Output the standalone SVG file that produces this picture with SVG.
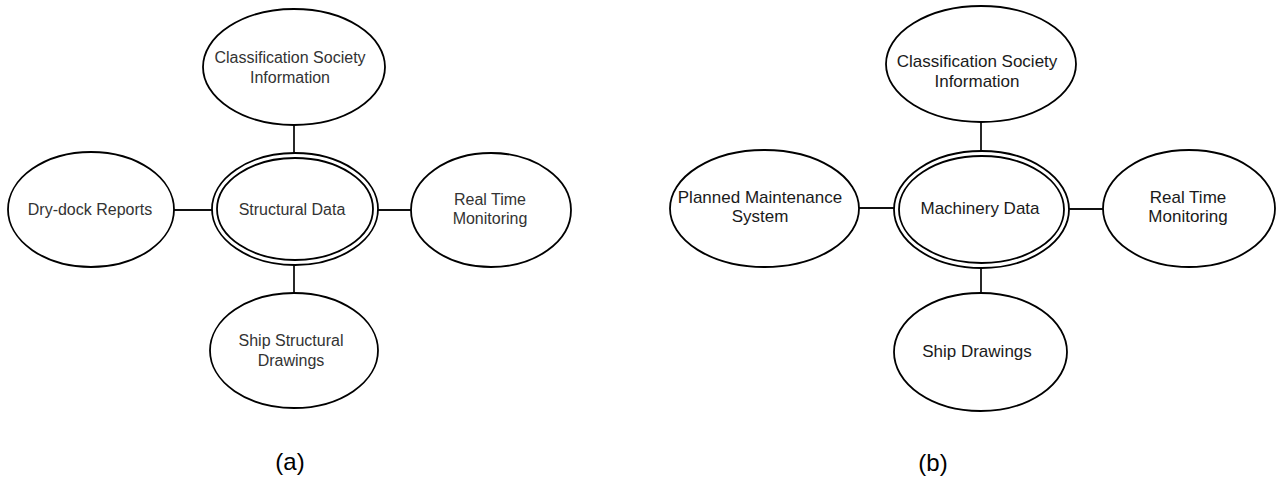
<svg xmlns="http://www.w3.org/2000/svg" width="1281" height="479" viewBox="0 0 1281 479">
<style>
.n{fill:#fff;stroke:#000;stroke-width:1.8}
.c{stroke:#111;stroke-width:1.8;fill:none}
.ta{font-family:"Liberation Sans",Arial,sans-serif;font-size:16px;fill:#333;text-anchor:middle}
.tb{font-family:"Liberation Sans",Arial,sans-serif;font-size:17px;fill:#1a1a1a;text-anchor:middle}
.cap{font-family:"Liberation Sans",Arial,sans-serif;font-size:24px;fill:#000;text-anchor:middle}
</style>
<rect width="1281" height="479" fill="#fff"/>
<g id="connectors">
<line class="c" x1="294" y1="125" x2="294" y2="153"/>
<line class="c" x1="174" y1="210" x2="212" y2="210"/>
<line class="c" x1="378" y1="210" x2="411" y2="210"/>
<line class="c" x1="294" y1="265" x2="294" y2="293"/>
<line class="c" x1="981" y1="122" x2="981" y2="151"/>
<line class="c" x1="859" y1="208" x2="894" y2="208"/>
<line class="c" x1="1069" y1="209" x2="1103" y2="209"/>
<line class="c" x1="981" y1="268" x2="981" y2="293"/>
</g>
<g id="a-class">
<ellipse class="n" cx="294" cy="67" rx="91" ry="58"/>
<text class="ta" x="290" y="63">Classification Society</text>
<text class="ta" x="290" y="83">Information</text>
</g>
<g id="a-struct">
<ellipse class="n" cx="295" cy="209" rx="83" ry="56"/>
<ellipse class="n" cx="295" cy="209" rx="78" ry="51"/>
<text class="ta" x="292" y="215">Structural Data</text>
</g>
<g id="a-drydock">
<ellipse class="n" cx="91" cy="209.5" rx="83" ry="57.5"/>
<text class="ta" x="90" y="215">Dry-dock Reports</text>
</g>
<g id="a-rtm">
<ellipse class="n" cx="491" cy="210" rx="80" ry="57"/>
<text class="ta" x="490" y="205">Real Time</text>
<text class="ta" x="490" y="224">Monitoring</text>
</g>
<g id="a-ship">
<ellipse class="n" cx="294" cy="350.5" rx="84" ry="57.5"/>
<text class="ta" x="291" y="346">Ship Structural</text>
<text class="ta" x="291" y="366">Drawings</text>
</g>
<text class="cap" x="290" y="470">(a)</text>
<g id="b-class">
<ellipse class="n" cx="981" cy="64" rx="95" ry="58"/>
<text class="tb" x="977" y="67">Classification Society</text>
<text class="tb" x="977" y="87">Information</text>
</g>
<g id="b-mach">
<ellipse class="n" cx="981.5" cy="209.5" rx="87.5" ry="58.5"/>
<ellipse class="n" cx="981.5" cy="209.5" rx="82.5" ry="53.5"/>
<text class="tb" x="980" y="214">Machinery Data</text>
</g>
<g id="b-pms">
<ellipse class="n" cx="764.5" cy="208.5" rx="94.5" ry="58.5"/>
<text class="tb" x="760" y="203">Planned Maintenance</text>
<text class="tb" x="760" y="222">System</text>
</g>
<g id="b-rtm">
<ellipse class="n" cx="1189" cy="208.5" rx="86" ry="58.5"/>
<text class="tb" x="1188" y="203">Real Time</text>
<text class="tb" x="1188" y="222">Monitoring</text>
</g>
<g id="b-ship">
<ellipse class="n" cx="980.5" cy="352" rx="86.5" ry="59"/>
<text class="tb" x="977" y="357">Ship Drawings</text>
</g>
<text class="cap" x="933" y="471">(b)</text>
</svg>
